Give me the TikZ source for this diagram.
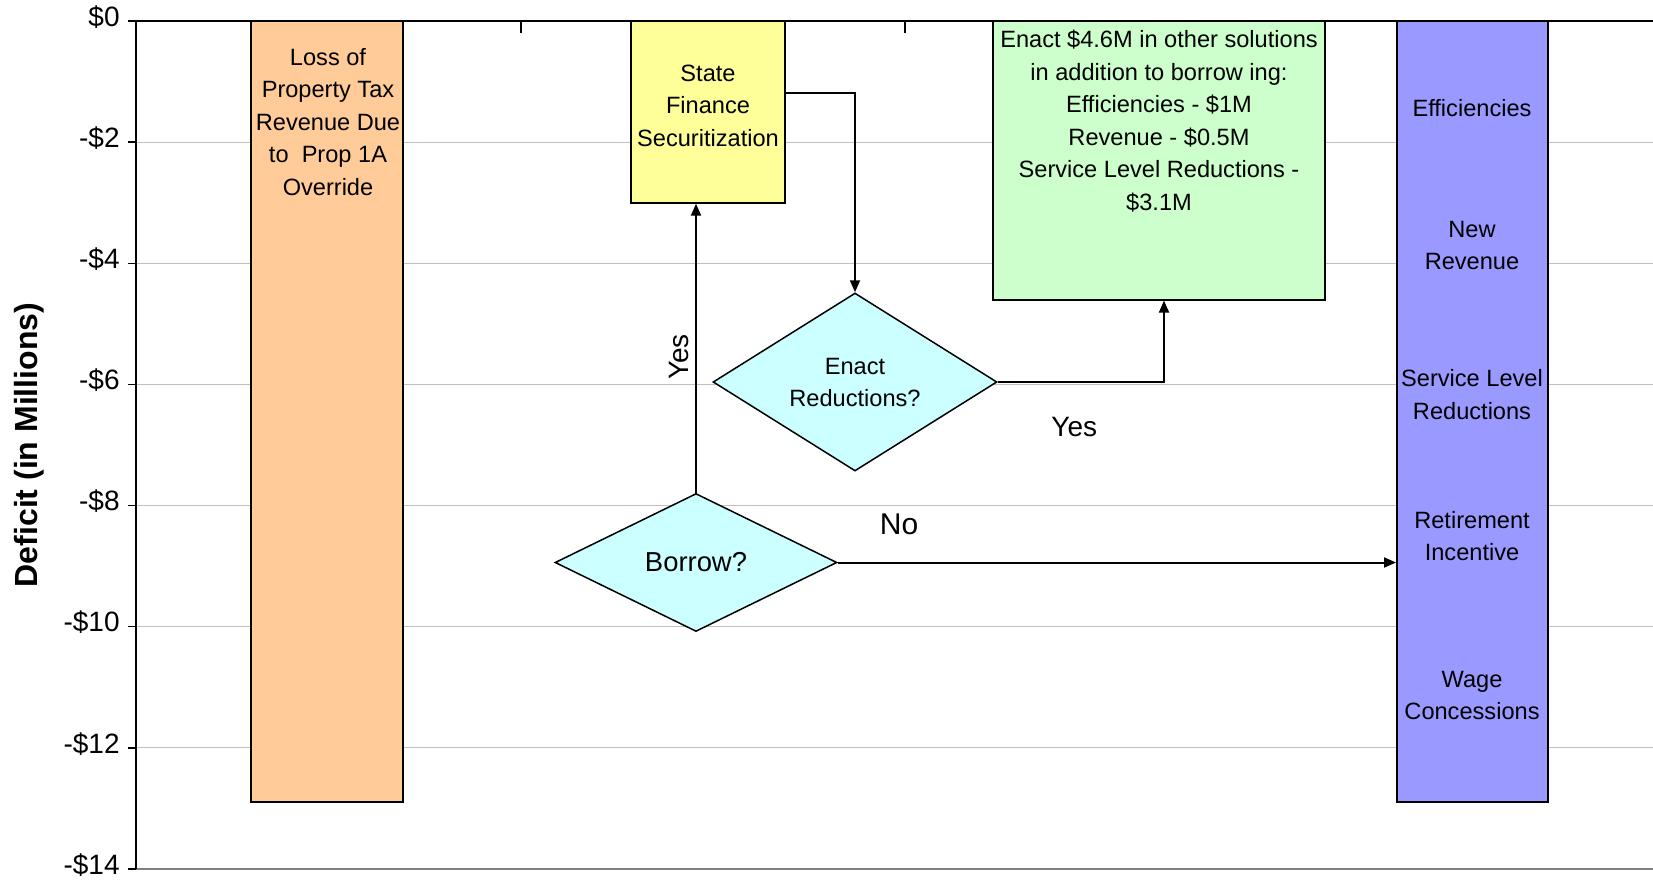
\documentclass[tikz,border=0pt]{standalone}
\usepackage{fontspec}
\setmainfont{Liberation Sans}
\usetikzlibrary{arrows.meta, shapes.geometric, calc, positioning, fit}
\definecolor{lossorange}{HTML}{FFCC99}
\definecolor{stateyellow}{HTML}{FFFF99}
\definecolor{solgreen}{HTML}{CCFFCC}
\definecolor{cutblue}{HTML}{9999FF}
\definecolor{askcyan}{HTML}{CCFFFF}
\definecolor{gridgray}{HTML}{C0C0C0}
\newcommand{\fsz}[2]{\fontsize{#1}{#2}\selectfont}

\begin{document}
\begin{tikzpicture}[x=0.5pt, y=30.285pt,
  bar/.style={draw, line width=1pt, inner sep=0pt},
  bartext/.style={align=center, font=\fsz{11.8pt}{16.25pt}},
  ask/.style={diamond, draw, line width=0.75pt, fill=askcyan, aspect=2, inner sep=0pt, align=center},
  flow/.style={line width=1pt, -{Triangle[length=6pt, width=5pt]}},
  ticklabel/.style={anchor=mid east, font=\fsz{14pt}{16pt}, inner sep=0pt}]
\useasboundingbox (0,0.3467) rectangle (1653,-14.1655);
% chart frame
\foreach \v in {2,4,...,14}
  \draw[gridgray, line width=0.5pt] (136,-\v) -- (1653,-\v);
\draw[line width=1.2pt, gray] (136,-14) -- (1653,-14);
\draw[line width=0.75pt] (1653,0) -- (136,0) -- (136,-14);
\foreach \v in {0,2,...,14}{
  \draw[line width=0.75pt] (128,-\v) -- (136,-\v);
  \node[ticklabel] (tick\v) at (120,-\v) {\ifnum\v=0 \$0\else -\$\v\fi};
}
\foreach \c in {521,905,1289}
  \draw[line width=0.75pt] (\c,0) -- (\c,-0.2);
\node[rotate=90, font=\bfseries\fsz{16pt}{18pt}] (ytitle) at (29,-7) {Deficit (in Millions)};
% bars
\node[bar, fill=lossorange, fit={(251,0) (403,-12.9)}] (loss) {};
\node[bar, fill=stateyellow, fit={(631,0) (785,-3)}] (state) {};
\node[bar, fill=solgreen, fit={(993,0) (1325,-4.6)}] (sol) {};
\node[bar, fill=cutblue, fit={(1397,0) (1548,-12.9)}] (cuts) {};
\node[bartext] (losstext) at (328,-1.667) {Loss of\\Property Tax\\Revenue Due\\to~ Prop 1A\\Override};
\node[bartext] (statetext) at (708,-1.40) {State\\Finance\\Securitization};
\node[bartext] (soltext) at (1159,-1.656) {Enact \$4.6M in other solutions\\in addition to borrow ing:\\Efficiencies - \$1M\\Revenue - \$0.5M\\Service Level Reductions -\\\$3.1M};
\node[bartext] (eff) at (1472,-1.436) {Efficiencies};
\node[bartext] (rev) at (1472,-3.706) {New\\Revenue};
\node[bartext] (slr) at (1472,-6.166) {Service Level\\Reductions};
\node[bartext] (ret) at (1472,-8.503) {Retirement\\Incentive};
\node[bartext] (wage) at (1472,-11.136) {Wage\\Concessions};
% decisions
\node[ask, minimum width=142pt, minimum height=89pt, font=\fsz{11.8pt}{16pt}] (enact) at (855,-5.96) {Enact\\Reductions?};
\node[ask, minimum width=141pt, minimum height=69pt, font=\fsz{13.7pt}{16pt}] (borrow) at (696,-8.94) {Borrow?};
\draw[flow] (borrow.north) -- node[pos=0.47, sloped, above, font=\fsz{14pt}{16pt}] (yesup) {Yes} (borrow.north |- state.south);
\draw[flow] ($(state.north east)!0.4!(state.south east)$) -| (enact.north);
\draw[flow] (enact.east) -| node[pos=0.23, below=14pt, font=\fsz{14pt}{16pt}] (yesright) {Yes} ($(sol.south)+(5,0)$);
\draw[flow] (borrow.east) -- node[pos=0.11, above=10pt, font=\fsz{15pt}{17pt}] (no) {No} (borrow.east -| cuts.west);
\end{tikzpicture}
\end{document}
